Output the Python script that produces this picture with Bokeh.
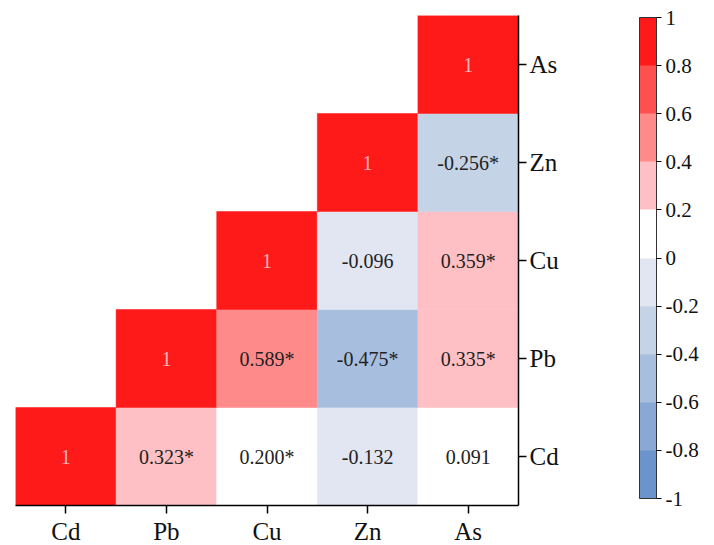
import numpy as np
from bokeh.plotting import figure
from bokeh.models import ColumnDataSource, LinearColorMapper, ColorBar, FixedTicker, CustomJSTickFormatter, FactorRange
from bokeh.core.properties import value
from bokeh.embed import file_html
from bokeh.resources import INLINE

# ---- data ----
elements = ["Cd", "Pb", "Cu", "Zn", "As"]
# upper-triangle correlation cells: (column element, row element)
cell_x = ["Cd", "Pb", "Cu", "Zn", "As",
          "Pb", "Cu", "Zn", "As",
          "Cu", "Zn", "As",
          "Zn", "As",
          "As"]
cell_y = ["Cd", "Cd", "Cd", "Cd", "Cd",
          "Pb", "Pb", "Pb", "Pb",
          "Cu", "Cu", "Cu",
          "Zn", "Zn",
          "As"]
corr = [1, 0.323, 0.200, -0.132, 0.091,
        1, 0.589, -0.475, 0.335,
        1, -0.096, 0.359,
        1, -0.256,
        1]
significant = [False, True, True, False, False,
               False, True, True, True,
               False, False, True,
               False, True,
               False]
cbar_ticks = [-1, -0.8, -0.6, -0.4, -0.2, 0, 0.2, 0.4, 0.6, 0.8, 1]
palette = ["#6C94CC", "#8AA8D6", "#A8BEDE", "#C4D3E6", "#E2E6F2",
           "#FFFFFF", "#FFC0C5", "#FF8A8A", "#FF5050", "#FF1A1A"]

# ---- derived ----
edges = np.array(cbar_ticks[1:-1], dtype=float)
colors = [palette[int(np.digitize(v, edges, right=True))] for v in corr]
labels = []
tcolors = []
for v, s in zip(corr, significant):
    if v == 1:
        labels.append("1")
        tcolors.append("#FFB8B8")
    else:
        labels.append(f"{v:.3f}" + ("*" if s else ""))
        tcolors.append("#222222")

src = ColumnDataSource(dict(x=cell_x, y=cell_y, c=colors, t=labels, tc=tcolors))

p = figure(x_range=FactorRange(*elements), y_range=FactorRange(*elements),
           frame_width=503, frame_height=490, y_axis_location="right",
           output_backend="svg", toolbar_location=None,
           min_border_left=15, min_border_top=15, min_border_bottom=0, min_border_right=190)
p.x_range.range_padding = 0
p.y_range.range_padding = 0
p.outline_line_color = None
p.grid.visible = False

p.rect(x="x", y="y", width=1, height=1, source=src, fill_color="c",
       line_color="c", line_width=0.5)
p.text(x="x", y="y", text="t", source=src, text_color="tc",
       text_align="center", text_baseline="middle",
       text_font=value("Liberation Serif"), text_font_size="20px")

for ax in (p.xaxis[0], p.yaxis[0]):
    ax.axis_line_color = "black"
    ax.axis_line_width = 1.5
    ax.major_tick_line_color = "black"
    ax.major_tick_line_width = 1.5
    ax.major_tick_out = 8
    ax.major_tick_in = 0
    ax.minor_tick_line_color = None
    ax.major_label_text_font = "Liberation Serif"
    ax.major_label_text_font_size = "25px"
    ax.major_label_text_color = "#111111"
p.xaxis[0].major_label_standoff = 4
p.yaxis[0].major_label_standoff = 3

mapper = LinearColorMapper(palette=palette, low=-1, high=1)
cb = ColorBar(color_mapper=mapper, width=17, height=481,
              ticker=FixedTicker(ticks=cbar_ticks),
              formatter=CustomJSTickFormatter(code="return (Math.round(tick*10)/10).toString();"),
              major_tick_in=0, major_tick_out=5, major_tick_line_color="black",
              minor_tick_line_color=None,
              bar_line_color="#333333", bar_line_width=1,
              border_line_color=None, background_fill_alpha=0,
              label_standoff=4, margin=0, padding=0,
              major_label_text_font="Liberation Serif",
              major_label_text_font_size="21px", major_label_text_color="#111111",
              location=(624, 7))
p.add_layout(cb, "center")

open("out.html", "w").write(file_html(p, INLINE))
